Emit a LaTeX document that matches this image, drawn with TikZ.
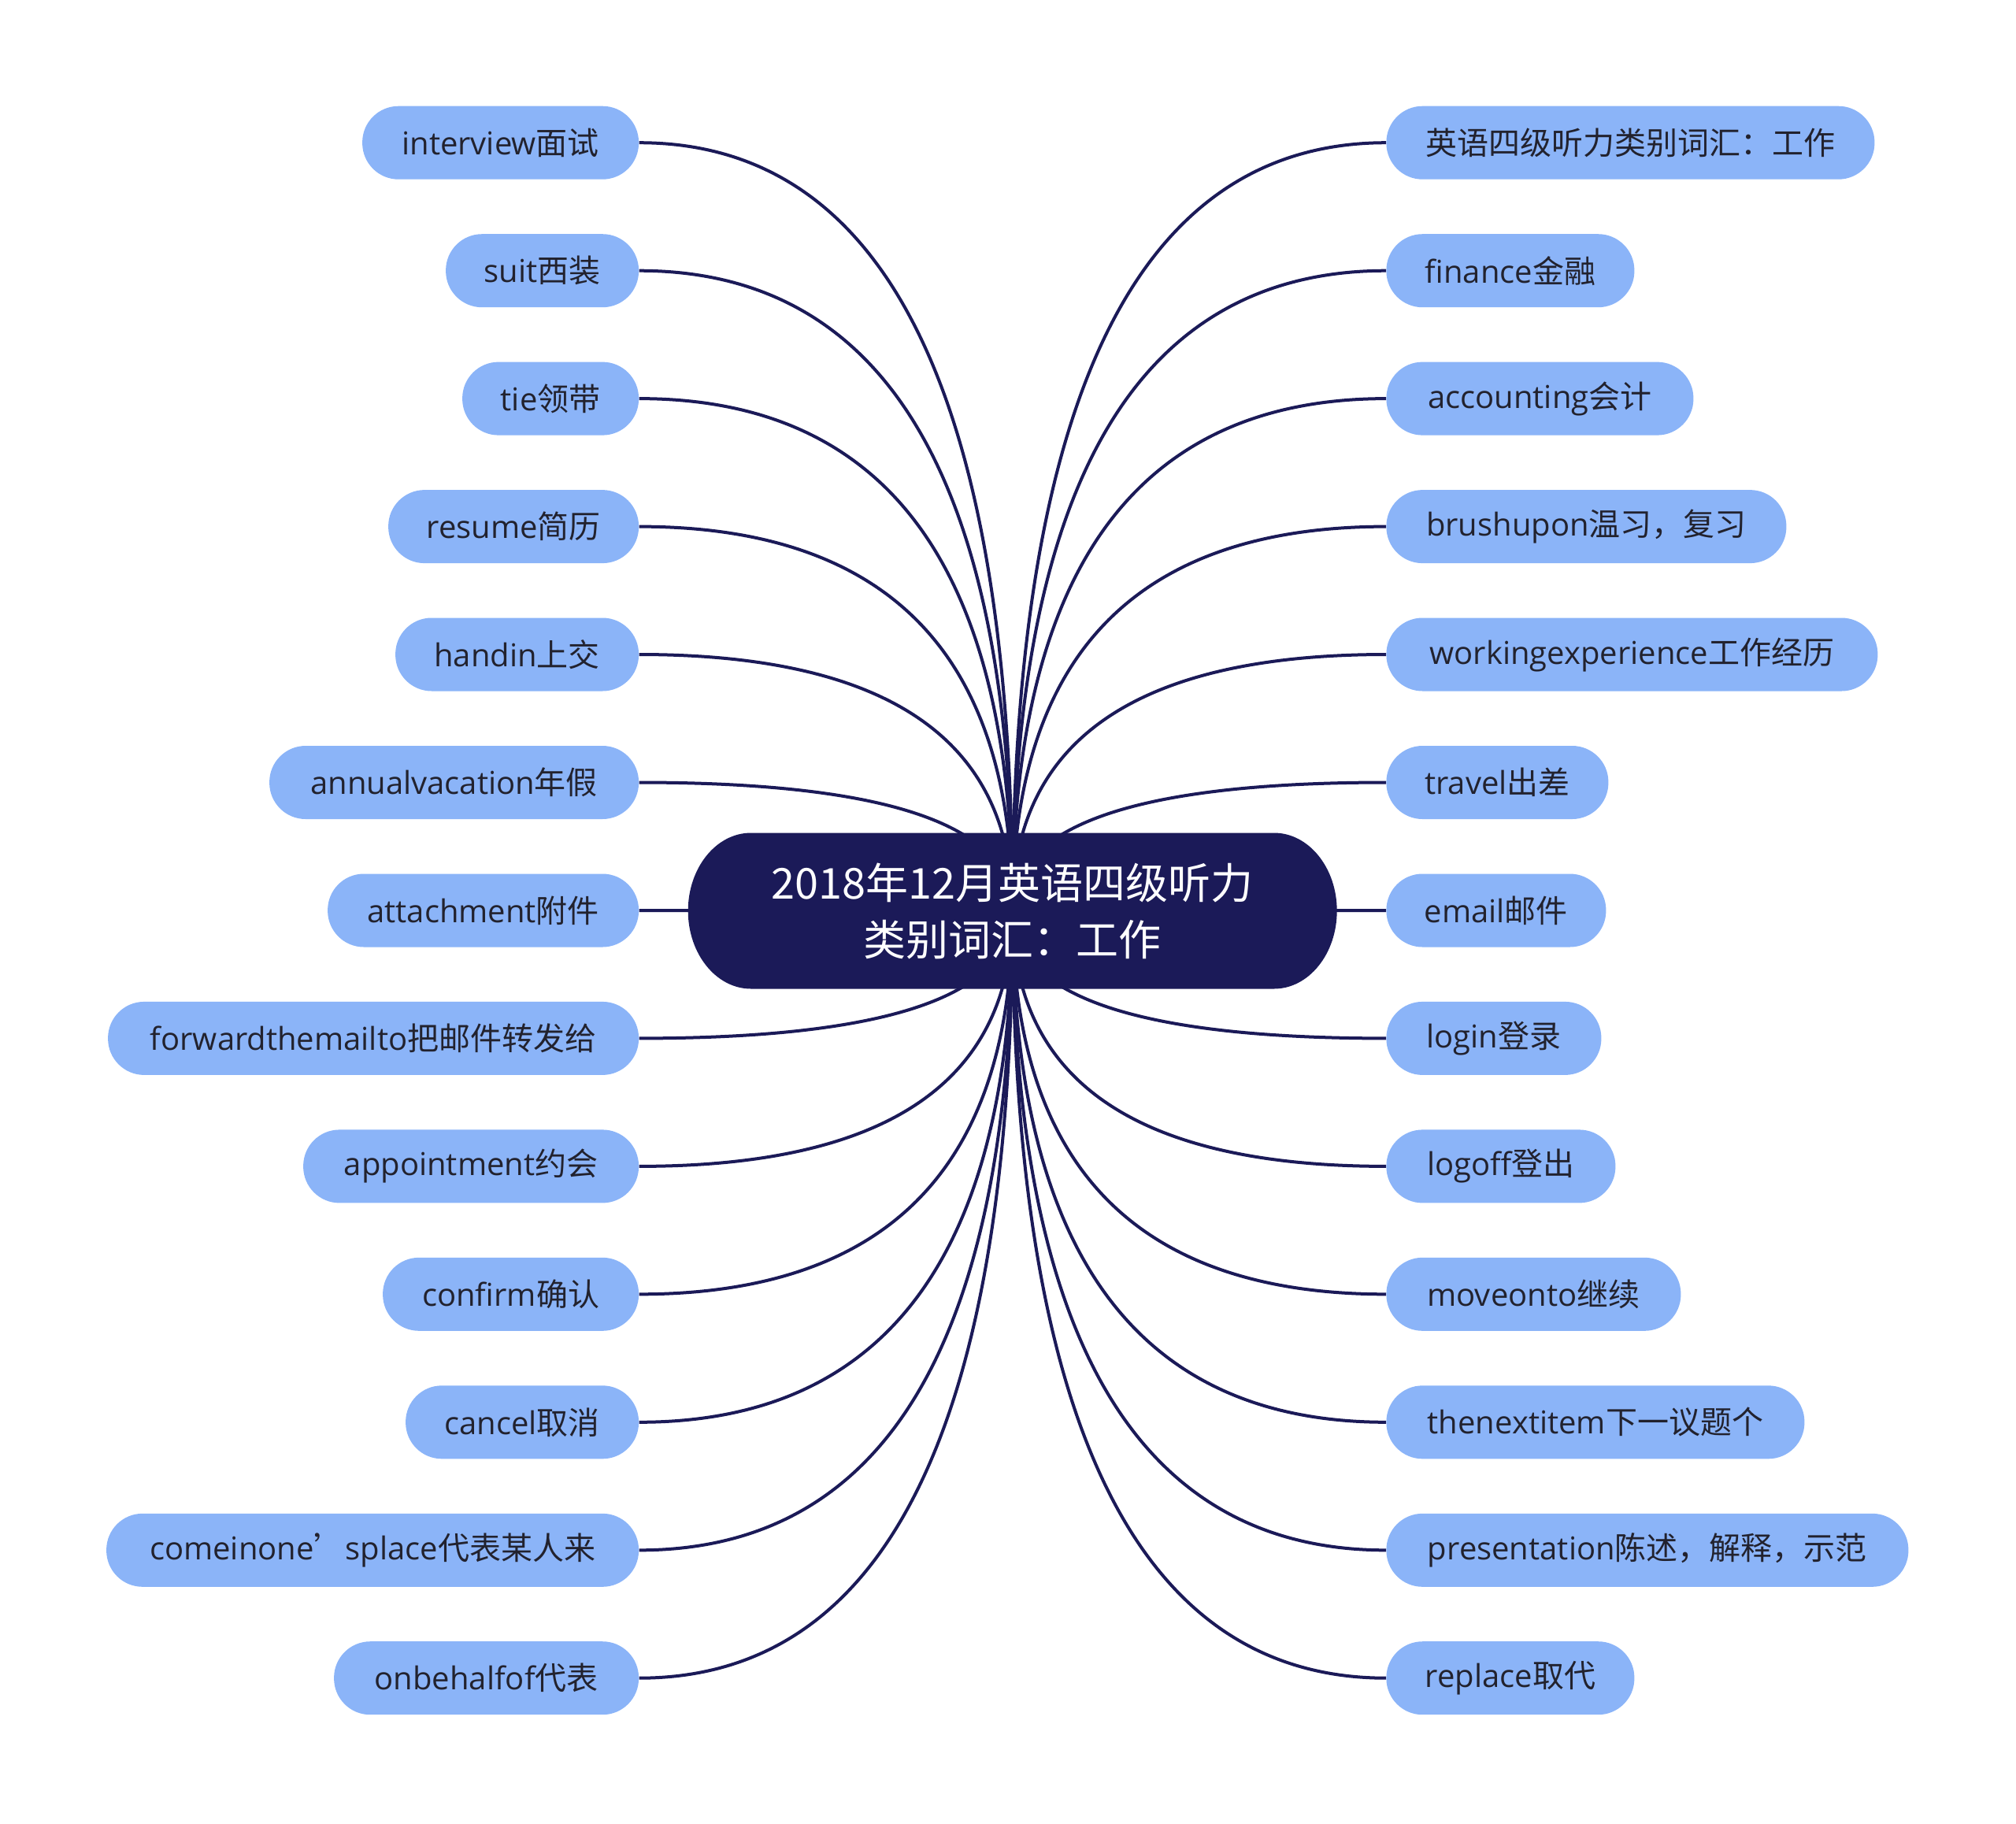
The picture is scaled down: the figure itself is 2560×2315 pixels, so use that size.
\documentclass[tikz,border=0pt]{standalone}
\usepackage{fontspec}
\setmainfont{Open Sans}
\newfontfamily\cj{Noto Sans CJK SC}
\newcommand\cjt[1]{{\cj #1}}
\usetikzlibrary{calc}
\definecolor{navy}{RGB}{27,26,88}
\definecolor{leaf}{RGB}{139,180,248}
\definecolor{ink}{RGB}{34,34,46}
\pgfdeclarelayer{bg}
\pgfdeclarelayer{mid}
\pgfsetlayers{bg,mid,main}
\tikzset{
  leafbox/.style={fill=leaf, rounded corners=23pt, minimum height=46.5pt, inner sep=0pt,
    text=ink, font=\fontsize{20}{24}\selectfont},
  leftleaf/.style={leafbox, anchor=east},
  rightleaf/.style={leafbox, anchor=west},
  conn/.style={draw=navy, line width=2pt},
  hub/.style={text=white, font=\cj\fontsize{27}{36}\selectfont, align=center, inner sep=0pt}
}
\begin{document}
\begin{tikzpicture}[x=0.5pt,y=-0.5pt]
\useasboundingbox (0,0) rectangle (2560,2315);
% center
\node[hub] (c) at (1285.7,1156.5) {2018年12月英语四级听力\\类别词汇：工作};
\begin{pgfonlayer}{mid}
\fill[navy] ($(c.center)+(-332,-99)$) -- ($(c.center)+(332,-99)$)
  arc[start angle=90, end angle=-90, x radius=40pt, y radius=49.5pt]
  -- ($(c.center)+(-332,99)$)
  arc[start angle=270, end angle=90, x radius=40pt, y radius=49.5pt] -- cycle;
\end{pgfonlayer}
% left leaves
\node[leftleaf, minimum width=175.5pt] (L1) at (811.5,181.2) {interview\cjt{面试}};
\node[leftleaf, minimum width=122.5pt] (L2) at (811.5,343.7) {suit\cjt{西装}};
\node[leftleaf, minimum width=112pt] (L3) at (811.5,506.1) {tie\cjt{领带}};
\node[leftleaf, minimum width=159pt] (L4) at (811.5,668.6) {resume\cjt{简历}};
\node[leftleaf, minimum width=154.5pt] (L5) at (811.5,831.0) {handin\cjt{上交}};
\node[leftleaf, minimum width=234.5pt] (L6) at (811.5,993.5) {annualvacation\cjt{年假}};
\node[leftleaf, minimum width=197.5pt] (L7) at (811.5,1156.0) {attachment\cjt{附件}};
\node[leftleaf, minimum width=337pt] (L8) at (811.5,1318.4) {forwardthemailto\cjt{把邮件转发给}};
\node[leftleaf, minimum width=213pt] (L9) at (811.5,1480.9) {appointment\cjt{约会}};
\node[leftleaf, minimum width=162.5pt] (L10) at (811.5,1643.3) {confirm\cjt{确认}};
\node[leftleaf, minimum width=148pt] (L11) at (811.5,1805.8) {cancel\cjt{取消}};
\node[leftleaf, minimum width=338pt] (L12) at (811.5,1968.3) {comeinone\cjt{’}splace\cjt{代表某人来}};
\node[leftleaf, minimum width=193.5pt] (L13) at (811.5,2130.7) {onbehalfof\cjt{代表}};
% right leaves
\node[rightleaf, minimum width=310pt] (R1) at (1760,181.2) {\cjt{英语四级听力类别词汇：工作}};
\node[rightleaf, minimum width=157.5pt] (R2) at (1760,343.7) {finance\cjt{金融}};
\node[rightleaf, minimum width=195pt] (R3) at (1760,506.1) {accounting\cjt{会计}};
\node[rightleaf, minimum width=254pt] (R4) at (1760,668.6) {brushupon\cjt{温习，复习}};
\node[rightleaf, minimum width=312pt] (R5) at (1760,831.0) {workingexperience\cjt{工作经历}};
\node[rightleaf, minimum width=141pt] (R6) at (1760,993.5) {travel\cjt{出差}};
\node[rightleaf, minimum width=139.5pt] (R7) at (1760,1156.0) {email\cjt{邮件}};
\node[rightleaf, minimum width=136.5pt] (R8) at (1760,1318.4) {login\cjt{登录}};
\node[rightleaf, minimum width=145.5pt] (R9) at (1760,1480.9) {logoff\cjt{登出}};
\node[rightleaf, minimum width=187pt] (R10) at (1760,1643.3) {moveonto\cjt{继续}};
\node[rightleaf, minimum width=265.5pt] (R11) at (1760,1805.8) {thenextitem\cjt{下一议题个}};
\node[rightleaf, minimum width=331.5pt] (R12) at (1760,1968.3) {presentation\cjt{陈述，解释，示范}};
\node[rightleaf, minimum width=157.5pt] (R13) at (1760,2130.7) {replace\cjt{取代}};
% connectors
\begin{pgfonlayer}{bg}
\foreach \i in {1,...,13}{
  \draw[conn] (c.center) .. controls ($(c.center)!0.6667!(c.center |- L\i.east)$)
    and ($(L\i.east)!0.6667!(c.center |- L\i.east)$) .. (L\i.east);
  \draw[conn] (c.center) .. controls ($(c.center)!0.6667!(c.center |- R\i.west)$)
    and ($(R\i.west)!0.6667!(c.center |- R\i.west)$) .. (R\i.west);
}
\end{pgfonlayer}
\end{tikzpicture}
\end{document}
